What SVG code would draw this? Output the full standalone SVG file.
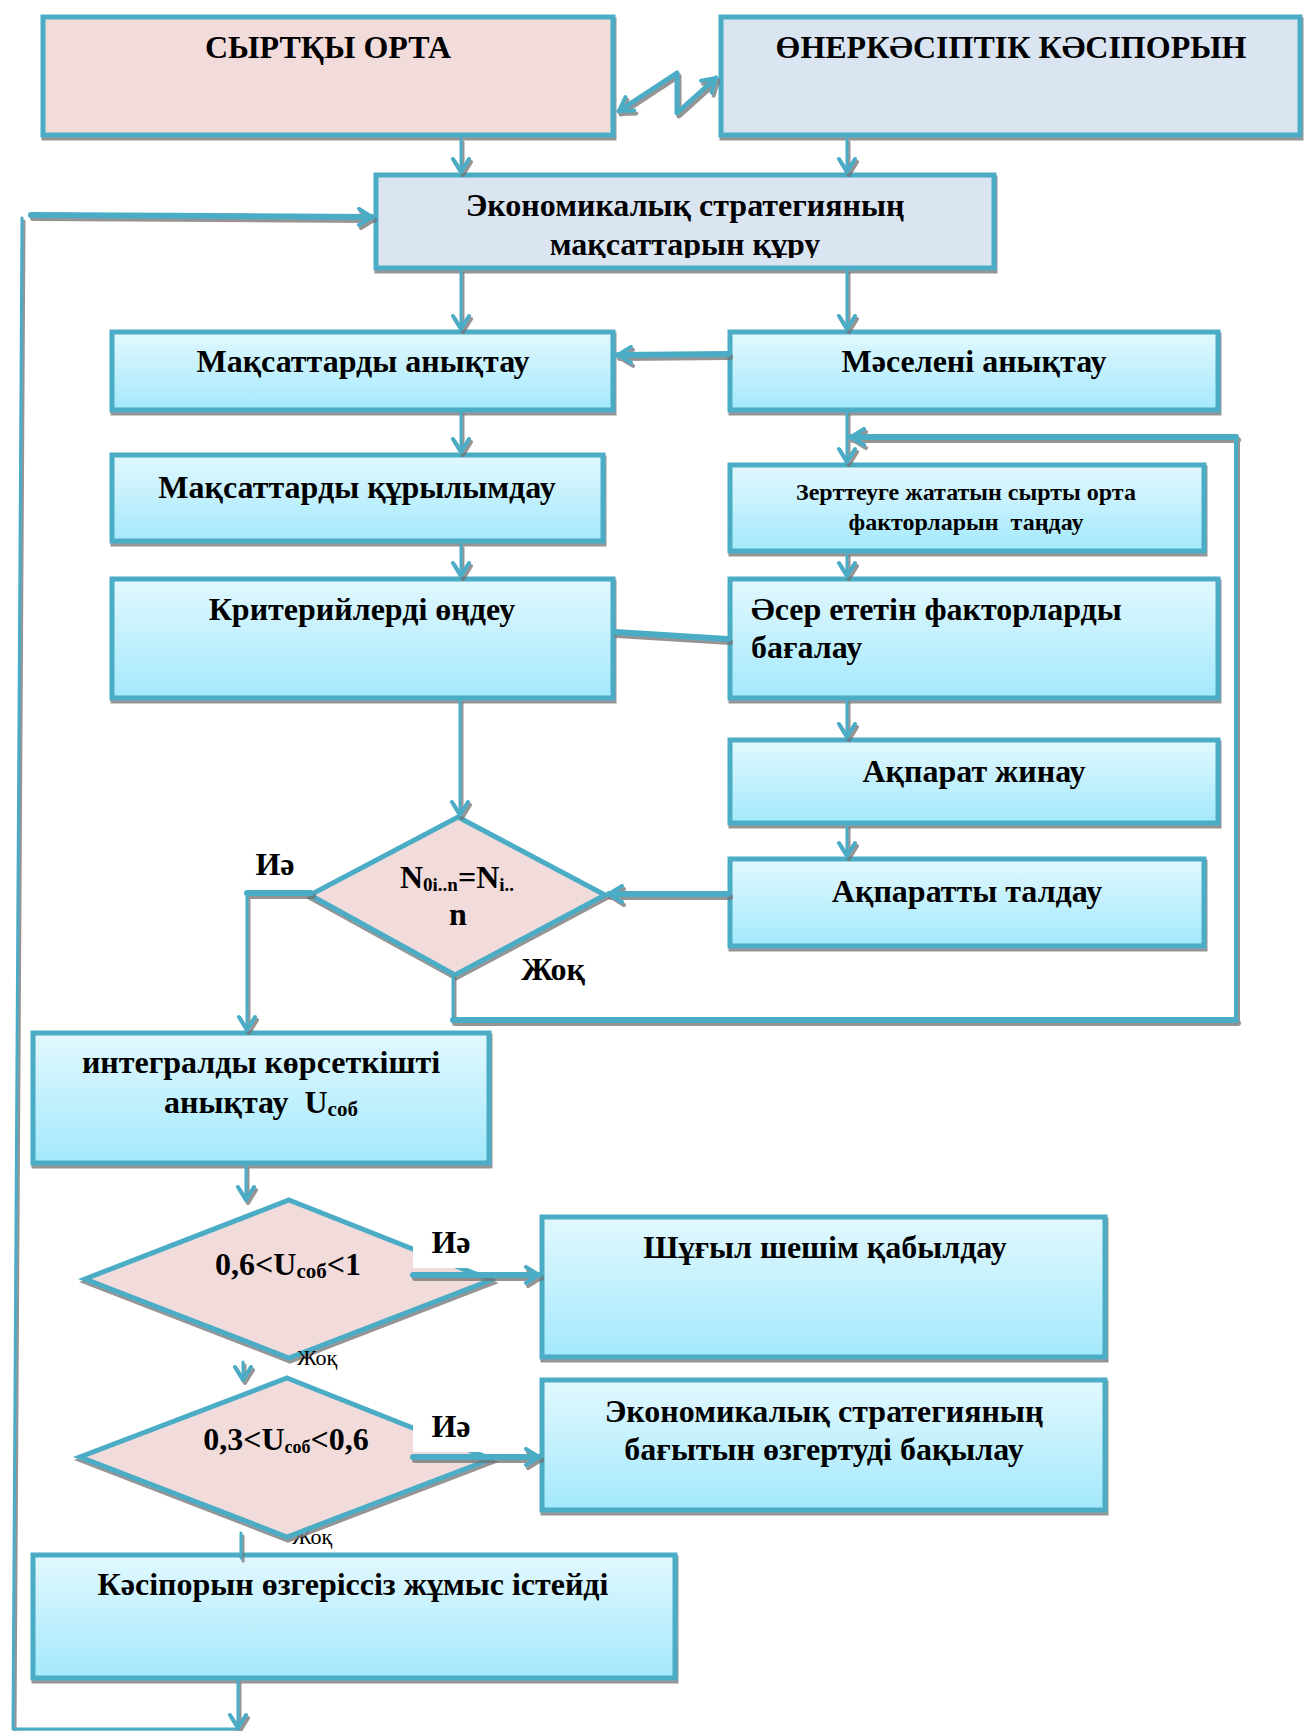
<svg xmlns="http://www.w3.org/2000/svg" width="1304" height="1731" viewBox="0 0 1304 1731">
<defs>
<linearGradient id="cy" x1="0" y1="0" x2="0" y2="1">
<stop offset="0" stop-color="#E2F8FE"/>
<stop offset="1" stop-color="#A3E9FC"/>
</linearGradient>
<filter id="sh" x="-5%" y="-5%" width="110%" height="115%">
<feDropShadow dx="1" dy="3" stdDeviation="0.6" flood-color="#7a7a7a" flood-opacity="0.8"/>
</filter>
<filter id="csh" x="-10%" y="-10%" width="120%" height="120%">
<feDropShadow dx="2" dy="3" stdDeviation="0.6" flood-color="#6f6f6f" flood-opacity="0.75"/>
</filter>
<marker id="ah" viewBox="0 0 20 20" refX="17" refY="10" markerWidth="20" markerHeight="20" markerUnits="userSpaceOnUse" orient="auto-start-reverse">
<path d="M4,2 L17,10 L4,18" fill="none" stroke="#4BACC6" stroke-width="4" stroke-linecap="round" stroke-linejoin="round"/>
</marker>
<clipPath id="clipEk"><rect x="376" y="175" width="618" height="83"/></clipPath>
</defs>
<style>
.box{fill:url(#cy);stroke:#4BACC6;stroke-width:5;filter:url(#sh)}
.pink{fill:#F2DCDB;stroke:#4BACC6;stroke-width:5;filter:url(#sh)}
.blue{fill:#DBE5F1;stroke:#4BACC6;stroke-width:5;filter:url(#sh)}
.t{font-family:"Liberation Serif","Times New Roman",serif;font-weight:bold;font-size:32px;fill:#000}
.ts{font-family:"Liberation Serif","Times New Roman",serif;font-weight:bold;font-size:24px;fill:#000}
.tr{font-family:"Liberation Serif","Times New Roman",serif;font-size:22px;fill:#000}
.c{fill:none;stroke:#4BACC6;stroke-linecap:round;stroke-linejoin:round}
.thin{stroke-width:3}
.thick{stroke-width:6}
</style>

<g id="node-syrtky">
<rect class="pink" x="43" y="17" width="570" height="118"/>
<text class="t" x="328" y="58" text-anchor="middle">СЫРТҚЫ ОРТА</text>
</g>
<g id="node-onerkasip">
<rect class="blue" x="721" y="17" width="579" height="118"/>
<text class="t" x="1011" y="58" text-anchor="middle">ӨНЕРКӘСІПТІК КӘСІПОРЫН</text>
</g>
<g id="node-ekonomikalyk">
<rect class="blue" x="376" y="175" width="618" height="93"/>
<g clip-path="url(#clipEk)">
<text class="t" x="685" y="216" text-anchor="middle">Экономикалық стратегияның</text>
<text class="t" x="685" y="255" text-anchor="middle">мақсаттарын құру</text>
</g>
</g>
<g id="node-maksat-anyktau">
<rect class="box" x="112" y="332" width="501" height="78"/>
<text class="t" x="363" y="372" text-anchor="middle">Мақсаттарды анықтау</text>
</g>
<g id="node-maseleni">
<rect class="box" x="730" y="332" width="488" height="78"/>
<text class="t" x="974" y="372" text-anchor="middle">Мәселені анықтау</text>
</g>
<g id="node-maksat-kurylym">
<rect class="box" x="112" y="455" width="491" height="86"/>
<text class="t" x="357" y="498" text-anchor="middle">Мақсаттарды құрылымдау</text>
</g>
<g id="node-zertteu">
<rect class="box" x="730" y="465" width="474" height="86"/>
<text class="ts" x="966" y="500" text-anchor="middle">Зерттеуге жататын сырты орта</text>
<text class="ts" x="966" y="530" text-anchor="middle" xml:space="preserve">факторларын  таңдау</text>
</g>
<g id="node-kriteri">
<rect class="box" x="112" y="579" width="501" height="119"/>
<text class="t" x="362" y="620" text-anchor="middle">Критерийлерді өңдеу</text>
</g>
<g id="node-aser">
<rect class="box" x="730" y="579" width="488" height="119"/>
<text class="t" x="751" y="620">Әсер ететін факторларды</text>
<text class="t" x="751" y="658">бағалау</text>
</g>
<g id="node-akparat-zhinau">
<rect class="box" x="730" y="740" width="488" height="83"/>
<text class="t" x="974" y="782" text-anchor="middle">Ақпарат жинау</text>
</g>
<g id="node-akparat-taldau">
<rect class="box" x="730" y="859" width="474" height="87"/>
<text class="t" x="967" y="902" text-anchor="middle">Ақпаратты талдау</text>
</g>
<g id="node-decision1">
<polygon class="pink" points="458,817 605,895 455,975 310,895"/>
<text class="t" x="457" y="888" text-anchor="middle" font-size="29">N<tspan font-size="19" dy="3">0i..n</tspan><tspan dy="-3">=N</tspan><tspan font-size="19" dy="3">i..</tspan></text>
<text class="t" x="458" y="925" text-anchor="middle" font-size="29">n</text>
</g>
<g id="node-integral">
<rect class="box" x="33" y="1033" width="456" height="130"/>
<text class="t" x="261" y="1073" text-anchor="middle">интегралды көрсеткішті</text>
<text class="t" x="261" y="1113" text-anchor="middle" xml:space="preserve">анықтау  U<tspan font-size="21" dy="3">соб</tspan></text>
</g>
<g id="node-decision2">
<polygon class="pink" points="289,1200 491,1280 289,1358 85,1279"/>
<text class="t" x="288" y="1275" text-anchor="middle">0,6&lt;U<tspan font-size="21" dy="3">соб</tspan><tspan dy="-3">&lt;1</tspan></text>
</g>
<g id="node-shugyl">
<rect class="box" x="542" y="1217" width="563" height="140"/>
<text class="t" x="825" y="1258" text-anchor="middle">Шұғыл шешім қабылдау</text>
</g>
<g id="label-zhok2">
<text class="tr" x="297" y="1365">Жоқ</text>
</g>
<g id="label-zhok3">
<text class="tr" x="292" y="1544">Жоқ</text>
</g>
<g id="node-decision3">
<polygon class="pink" points="287,1378 491,1459 287,1537 80,1457"/>
<text class="t" x="286" y="1450" text-anchor="middle" font-size="27">0,3&lt;U<tspan font-size="18" dy="3">соб</tspan><tspan dy="-3">&lt;0,6</tspan></text>
</g>
<g id="node-ekon-bagyt">
<rect class="box" x="542" y="1380" width="563" height="130"/>
<text class="t" x="824" y="1422" text-anchor="middle">Экономикалық стратегияның</text>
<text class="t" x="824" y="1460" text-anchor="middle">бағытын өзгертуді бақылау</text>
</g>
<g id="node-kasiporyn">
<rect class="box" x="33" y="1555" width="642" height="123"/>
<text class="t" x="353" y="1595" text-anchor="middle">Кәсіпорын өзгеріссіз жұмыс істейді</text>
</g>

<g id="labels">
<rect x="413" y="1226" width="78" height="42" fill="#fff"/>
<rect x="413" y="1405" width="78" height="47" fill="#fff"/>
<text class="t" x="451" y="1253" text-anchor="middle" font-size="27">Иә</text>
<text class="t" x="451" y="1437" text-anchor="middle" font-size="27">Иә</text>
<text class="t" x="275" y="875" text-anchor="middle" font-size="24">Иә</text>
<text class="t" x="553" y="980" text-anchor="middle" font-size="23">Жоқ</text>
</g>

<g id="connectors" filter="url(#csh)">
<polyline class="c" stroke-width="5" points="619,111 677,73 677,113 716,78" marker-start="url(#ah)" marker-end="url(#ah)"/>
<line class="c thin" x1="461" y1="139" x2="461" y2="172" marker-end="url(#ah)"/>
<line class="c thin" x1="847" y1="139" x2="847" y2="172" marker-end="url(#ah)"/>
<polyline class="c thin" points="238,1729 13,1729 22,218"/>
<line class="c thick" x1="31" y1="215" x2="372" y2="217" marker-end="url(#ah)"/>
<line class="c thin" x1="461" y1="270" x2="461" y2="329" marker-end="url(#ah)"/>
<line class="c thin" x1="847" y1="270" x2="847" y2="329" marker-end="url(#ah)"/>
<line class="c thick" x1="728" y1="354" x2="618" y2="355" marker-end="url(#ah)"/>
<line class="c thin" x1="461" y1="412" x2="461" y2="452" marker-end="url(#ah)"/>
<line class="c thin" x1="847" y1="412" x2="847" y2="462" marker-end="url(#ah)"/>
<line class="c thin" x1="453" y1="975" x2="453" y2="1020"/>
<line class="c thick" x1="453" y1="1020" x2="1236" y2="1020"/>
<line class="c" stroke-width="4" x1="1236" y1="1020" x2="1236" y2="437"/>
<line class="c thick" x1="1236" y1="437" x2="851" y2="437" marker-end="url(#ah)"/>
<line class="c thin" x1="461" y1="545" x2="461" y2="576" marker-end="url(#ah)"/>
<line class="c thin" x1="847" y1="553" x2="847" y2="576" marker-end="url(#ah)"/>
<line class="c thick" x1="615" y1="632" x2="728" y2="639"/>
<line class="c thin" x1="847" y1="700" x2="847" y2="737" marker-end="url(#ah)"/>
<line class="c thin" x1="847" y1="825" x2="847" y2="856" marker-end="url(#ah)"/>
<line class="c thin" x1="460" y1="700" x2="460" y2="815" marker-end="url(#ah)"/>
<line class="c thick" x1="728" y1="894" x2="609" y2="894" marker-end="url(#ah)"/>
<line class="c thick" x1="311" y1="893" x2="247" y2="893"/>
<line class="c thin" x1="247" y1="893" x2="247" y2="1030" marker-end="url(#ah)"/>
<line class="c thin" x1="246" y1="1166" x2="246" y2="1200" marker-end="url(#ah)"/>
<line class="c thick" x1="413" y1="1275" x2="539" y2="1275" marker-end="url(#ah)"/>
<line class="c thin" x1="243" y1="1362" x2="243" y2="1380" marker-end="url(#ah)"/>
<line class="c thick" x1="413" y1="1457" x2="539" y2="1457" marker-end="url(#ah)"/>
<line class="c thin" x1="241" y1="1533" x2="241" y2="1558"/>
<line class="c thin" x1="238" y1="1681" x2="238" y2="1728" marker-end="url(#ah)"/>
</g>
</svg>
